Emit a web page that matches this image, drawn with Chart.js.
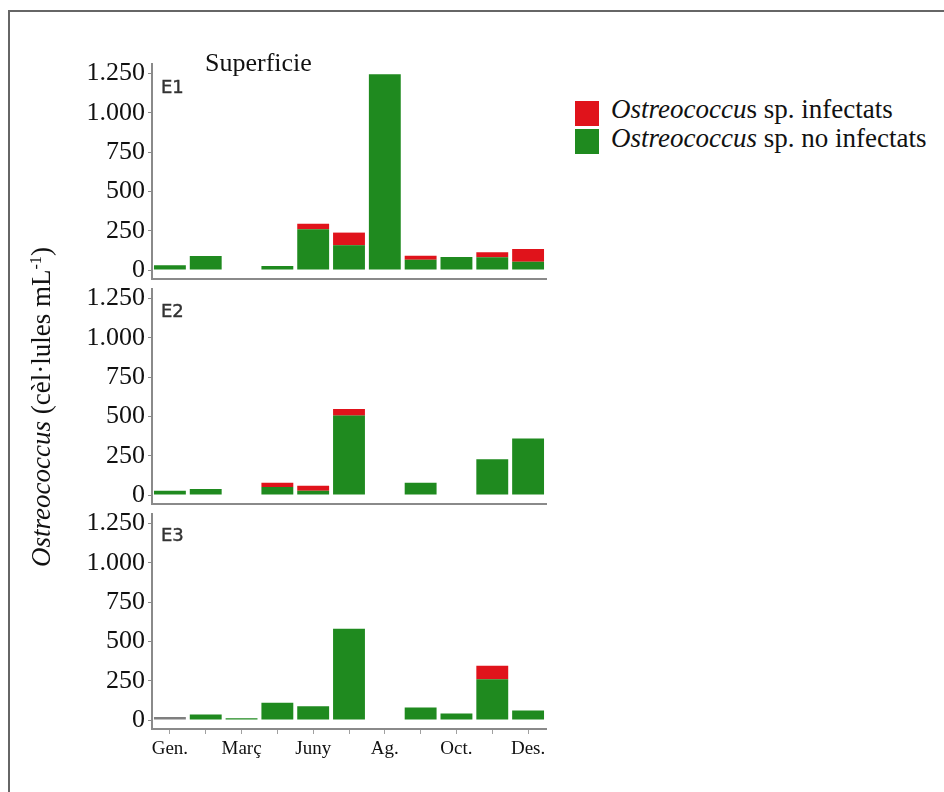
<!DOCTYPE html>
<html>
<head>
<meta charset="utf-8">
<title>Ostreococcus – Superficie</title>
<script src="https://cdn.jsdelivr.net/npm/chart.js@4.4.0/dist/chart.umd.min.js"></script>
<style>
  html, body { margin: 0; padding: 0; background: #fff; overflow: hidden; }
  body { width: 944px; height: 792px; position: relative; font-family: 'Liberation Serif', 'Times New Roman', serif; color: #111; }
  .frame { position: absolute; left: 8px; top: 10px; width: 1000px; height: 900px; border-left: 2px solid #666; border-top: 2px solid #666; }
  canvas { position: absolute; left: 0; }
  .station { position: absolute; left: 161px; font-family: 'DejaVu Sans', Verdana, sans-serif; font-size: 18px; line-height: 21px; color: #333; -webkit-text-stroke: 0.4px #333; }
  .heading { position: absolute; left: 205px; top: 48px; font-size: 26px; line-height: 30px; white-space: nowrap; }
  .ytitle { position: absolute; left: -159px; top: 392px; width: 400px; height: 30px; line-height: 30px; font-size: 27px; text-align: center; white-space: nowrap; transform: rotate(-90deg); transform-origin: 50% 50%; }
  .ytitle sup { font-size: 60%; line-height: 0; vertical-align: 0.55em; }
  .swatch { position: absolute; left: 575px; width: 24px; height: 25px; }
  .legtext { position: absolute; left: 611px; font-size: 27px; line-height: 30px; white-space: nowrap; }
</style>
</head>
<body>
<div class="frame"></div>

<canvas id="panelE1"></canvas>
<canvas id="panelE2"></canvas>
<canvas id="panelE3"></canvas>

<div class="heading">Superficie</div>
<div class="station" style="top:76px">E1</div>
<div class="station" style="top:300px">E2</div>
<div class="station" style="top:524px">E3</div>

<div class="ytitle"><i>Ostreococcus</i> (cèl·lules mL<sup>-1</sup>)</div>

<div class="swatch" style="top:101px;background:#e0131b"></div>
<div class="swatch" style="top:129px;background:#1f8a1f"></div>
<div class="legtext" style="top:94px"><i>Ostreococcu</i>s sp. infectats</div>
<div class="legtext" style="top:123px"><i>Ostreococcus</i> sp. no infectats</div>

<script>
// Sampling slots along the year; only every other slot carries a month label.
const sampleLabels = ['Gen.', '', 'Març', '', 'Juny', '', 'Ag.', '', 'Oct.', '', 'Des.'];

// Abundance of Ostreococcus sp. (cells per mL) at each station.
const e1Healthy  = [30, 90, null, 25, 260, 158, 1245, 66, 83, 81, 53];
const e1Infected = [null, null, null, null, 35, 80, null, 25, null, 32, 81];

const e2Healthy  = [27, 38, null, 51, 27, 505, null, 78, null, 228, 360];
const e2Infected = [null, null, null, 27, 32, 42, null, null, null, null, null];

const e3Healthy  = [20, 35, 12, 110, 87, 580, null, 80, 42, 259, 60];
const e3Infected = [null, null, null, null, null, null, null, null, null, 86, null];

// Shared value axis
const Y_MIN = -57;
const Y_MAX = 1310;
const Y_STEP = 250;

// Styling
const GREEN = '#1f8a1f';
const RED = '#e0131b';
const GREY_BAR = '#7f7f7f';
const AXIS = '#8a8a8a';
const SERIF = "'Liberation Serif', 'Times New Roman', serif";

// Layout of the three stacked panels (zero line of each panel in page pixels)
const ZERO_LINES = [270, 495, 720];
const AREA_H = 215;
const PX_PER_UNIT = AREA_H / (Y_MAX - Y_MIN);
const PAD_TOP = 12;
const CANVAS_W = 560;

function thousands(v) {
  if (v >= 1000) {
    return Math.floor(v / 1000) + '.' + String(v % 1000).padStart(3, '0');
  }
  return String(v);
}

function buildPanel(id, zeroY, healthy, infected, healthyColors, withLabels) {
  const cv = document.getElementById(id);
  const areaTop = Math.round(zeroY - Y_MAX * PX_PER_UNIT);
  const xAxisH = withLabels ? 40 : 2;
  cv.width = CANVAS_W;
  cv.height = PAD_TOP + AREA_H + xAxisH;
  cv.style.top = (areaTop - PAD_TOP) + 'px';

  new Chart(cv, {
    type: 'bar',
    data: {
      labels: sampleLabels,
      datasets: [
        {
          label: 'Ostreococcus sp. no infectats',
          data: healthy,
          backgroundColor: healthyColors,
          borderWidth: 0
        },
        {
          label: 'Ostreococcus sp. infectats',
          data: infected,
          backgroundColor: RED,
          borderWidth: 0
        }
      ]
    },
    options: {
      responsive: false,
      animation: false,
      events: [],
      datasets: { bar: { barPercentage: 0.89, categoryPercentage: 1 } },
      layout: { padding: { top: PAD_TOP, right: CANVAS_W - 546, left: 0, bottom: 0 } },
      plugins: { legend: { display: false }, tooltip: { enabled: false } },
      scales: {
        x: {
          stacked: true,
          offset: true,
          grid: {
            display: true,
            offset: false,
            drawOnChartArea: false,
            drawTicks: withLabels,
            tickLength: 5,
            tickColor: '#a0a0a0'
          },
          border: { display: true, color: AXIS, width: 2 },
          ticks: {
            display: withLabels,
            autoSkip: false,
            maxRotation: 0,
            padding: 4,
            color: '#111',
            font: { family: SERIF, size: 19 }
          },
          afterFit(s) { s.height = xAxisH; s.paddingLeft = 0; s.paddingRight = 0; }
        },
        y: {
          stacked: true,
          min: Y_MIN,
          max: Y_MAX,
          ticks: {
            stepSize: Y_STEP,
            includeBounds: false,
            padding: 3,
            color: '#111',
            font: { family: SERIF, size: 26 },
            callback: (v) => thousands(v)
          },
          grid: { drawOnChartArea: false, drawTicks: true, tickLength: 4, tickColor: AXIS },
          border: { display: true, color: AXIS, width: 2 },
          afterFit(s) { s.width = 152; s.paddingTop = 0; s.paddingBottom = 0; }
        }
      }
    }
  });
}

const greenAll = (vals) => vals.map(() => GREEN);
const e3Colors = e3Healthy.map((v, i) => (i === 0 ? GREY_BAR : GREEN));

buildPanel('panelE1', ZERO_LINES[0], e1Healthy, e1Infected, greenAll(e1Healthy), false);
buildPanel('panelE2', ZERO_LINES[1], e2Healthy, e2Infected, greenAll(e2Healthy), false);
buildPanel('panelE3', ZERO_LINES[2], e3Healthy, e3Infected, e3Colors, true);
</script>
</body>
</html>
